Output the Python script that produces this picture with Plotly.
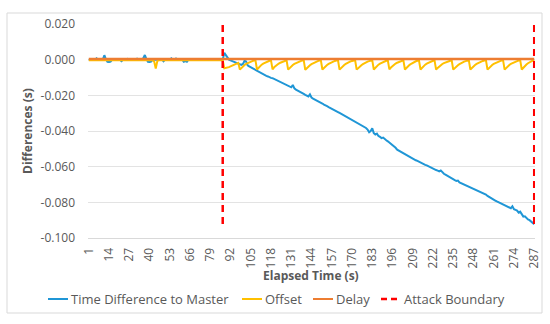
import plotly.graph_objects as go

# ---------------- data ----------------
ELAPSED = list(range(1, 288))  # category positions 1..287

TICK_VALUES = [1, 14, 27, 40, 53, 66, 79, 92, 105, 118, 131, 144, 157, 170, 183,
               196, 209, 222, 235, 248, 261, 274, 287]

TIME_DIFF = [
    0.0000, 0.0000, 0.0003, 0.0000, 0.0000, 0.0008, 0.0000, 0.0000, 0.0003, 0.0000,
    0.0025, 0.0002, -0.0012, -0.0013, -0.0011, 0.0000, 0.0000, 0.0000, 0.0002, 0.0000,
    0.0000, -0.0008, 0.0000, 0.0000, 0.0000, 0.0005, 0.0000, 0.0000, 0.0000, 0.0000,
    0.0000, 0.0006, 0.0000, 0.0000, 0.0000, 0.0008, 0.0026, 0.0003, -0.0012, -0.0013,
    -0.0011, 0.0000, 0.0000, 0.0000, 0.0000, 0.0000, 0.0000, 0.0000, -0.0009, 0.0000,
    0.0000, 0.0000, 0.0000, 0.0008, 0.0000, 0.0000, 0.0007, 0.0000, 0.0000, 0.0000,
    0.0000, -0.0012, -0.0008, -0.0012, 0.0000, 0.0000, 0.0000, 0.0000, 0.0000, 0.0000,
    0.0000, 0.0000, 0.0003, 0.0000, 0.0000, 0.0000, 0.0000, 0.0000, 0.0000, 0.0000,
    0.0000, 0.0000, 0.0000, 0.0000, 0.0000, 0.0000, 0.0000,
    0.0038, 0.0025, 0.0008,
    0.0000, -0.0004, -0.0008, -0.0011, -0.0014, -0.0018, -0.0022, -0.0026, -0.0029, -0.0024,
    -0.0006, -0.0010, -0.0032, -0.0038, -0.0043, -0.0048, -0.0053, -0.0058, -0.0063, -0.0068,
    -0.0073, -0.0079, -0.0084, -0.0088, -0.0091, -0.0094, -0.0099, -0.0102, -0.0104, -0.0108,
    -0.0112, -0.0116, -0.0121, -0.0125, -0.0129, -0.0132, -0.0137, -0.0141, -0.0146, -0.0151,
    -0.0155, -0.0142, -0.0161,
    -0.0168, -0.0172, -0.0178, -0.0183, -0.0186, -0.0192, -0.0197,
    -0.0201, -0.0206, -0.0195, -0.0212, -0.0218, -0.0222, -0.0228, -0.0231, -0.0237, -0.0242,
    -0.0246, -0.0252, -0.0255, -0.0261, -0.0266, -0.0270, -0.0276, -0.0279, -0.0285, -0.0290,
    -0.0294, -0.0299, -0.0304, -0.0308, -0.0313, -0.0318, -0.0322, -0.0328, -0.0331, -0.0337,
    -0.0342, -0.0346, -0.0352, -0.0356, -0.0362, -0.0366, -0.0372, -0.0378, -0.0383, -0.0392,
    -0.0407, -0.0400, -0.0385, -0.0412, -0.0420, -0.0415, -0.0428, -0.0433, -0.0440, -0.0437,
    -0.0447, -0.0452, -0.0458, -0.0465, -0.0470, -0.0476, -0.0482, -0.0494, -0.0505, -0.0510,
    -0.0515, -0.0520, -0.0525, -0.0532, -0.0538, -0.0541, -0.0545, -0.0551, -0.0555, -0.0561,
    -0.0564, -0.0568, -0.0573, -0.0577, -0.0580, -0.0585, -0.0590, -0.0593, -0.0598, -0.0602,
    -0.0606, -0.0610, -0.0614, -0.0619, -0.0622, -0.0626, -0.0621, -0.0632, -0.0640, -0.0645,
    -0.0651, -0.0657, -0.0663, -0.0667, -0.0672, -0.0676, -0.0680, -0.0678, -0.0688, -0.0692,
    -0.0696, -0.0700, -0.0703, -0.0707, -0.0710, -0.0714, -0.0718, -0.0722, -0.0726, -0.0731,
    -0.0734, -0.0738, -0.0741, -0.0745, -0.0750, -0.0756, -0.0764, -0.0770, -0.0777, -0.0782,
    -0.0786, -0.0790, -0.0795, -0.0799, -0.0803, -0.0808, -0.0812, -0.0816, -0.0820, -0.0825,
    -0.0829, -0.0833, -0.0822, -0.0838, -0.0842, -0.0846, -0.0858, -0.0852, -0.0866, -0.0880,
    -0.0878, -0.0890, -0.0896, -0.0900, -0.0908, -0.0915, -0.0923,
]

OFFSET = [
    # 1-87 (before attack)
    -0.0003, -0.0003, -0.0002, -0.0003, -0.0003, -0.0002, -0.0003, -0.0003, -0.0003, -0.0002,
    -0.0003, -0.0004, -0.0003, -0.0003, -0.0003, -0.0003, -0.0002, -0.0003, -0.0003, -0.0003,
    -0.0003, -0.0003, -0.0003, -0.0003, -0.0003, -0.0003, -0.0003, -0.0003, -0.0003, -0.0003,
    -0.0003, -0.0003, -0.0003, -0.0003, -0.0003, -0.0003, -0.0003, -0.0003, -0.0003, -0.0003,
    -0.0003, -0.0003, -0.0010, -0.0050, -0.0008, -0.0003, -0.0003, -0.0003, -0.0003, -0.0003,
    -0.0003, -0.0003, -0.0003, -0.0003, -0.0003, -0.0003, -0.0003, -0.0003, -0.0003, -0.0003,
    -0.0003, -0.0003, -0.0003, -0.0003, -0.0003, -0.0003, -0.0003, -0.0003, -0.0003, -0.0003,
    -0.0003, -0.0003, -0.0003, -0.0003, -0.0003, -0.0003, -0.0003, -0.0003, -0.0003, -0.0003,
    -0.0003, -0.0003, -0.0003, -0.0003, -0.0003, -0.0003, -0.0003,
    # 88-287 (sawtooth after attack)
    -0.0048, -0.0047, -0.0045, -0.0042, -0.0038, -0.0034, -0.0030, -0.0026, -0.0022, -0.0018,
    -0.0056, -0.0046, -0.0037, -0.0030, -0.0024, -0.0019, -0.0015, -0.0011, -0.0008, -0.0005, -0.0003,
    -0.0055, -0.0044, -0.0035, -0.0028, -0.0022, -0.0017, -0.0013, -0.0009, -0.0006, -0.0004,
    -0.0054, -0.0043, -0.0035, -0.0028, -0.0022, -0.0017, -0.0013, -0.0010, -0.0007, -0.0004,
    -0.0056, -0.0046, -0.0037, -0.0030, -0.0024, -0.0019, -0.0015, -0.0011, -0.0008, -0.0005, -0.0003,
    -0.0057, -0.0047, -0.0038, -0.0031, -0.0025, -0.0020, -0.0015, -0.0011, -0.0008, -0.0005, -0.0003,
    -0.0055, -0.0045, -0.0037, -0.0030, -0.0024, -0.0019, -0.0014, -0.0010, -0.0007, -0.0005, -0.0003,
    -0.0056, -0.0046, -0.0037, -0.0030, -0.0024, -0.0018, -0.0014, -0.0010, -0.0007, -0.0005, -0.0003,
    -0.0056, -0.0046, -0.0038, -0.0031, -0.0025, -0.0019, -0.0015, -0.0011, -0.0008, -0.0005, -0.0003,
    -0.0055, -0.0044, -0.0035, -0.0028, -0.0022, -0.0017, -0.0013, -0.0009, -0.0006, -0.0004,
    -0.0054, -0.0044, -0.0035, -0.0028, -0.0022, -0.0017, -0.0013, -0.0009, -0.0006, -0.0004,
    -0.0055, -0.0045, -0.0036, -0.0029, -0.0023, -0.0017, -0.0013, -0.0009, -0.0006, -0.0004,
    -0.0055, -0.0044, -0.0035, -0.0028, -0.0022, -0.0017, -0.0012, -0.0009, -0.0006, -0.0004,
    -0.0056, -0.0046, -0.0037, -0.0030, -0.0024, -0.0019, -0.0015, -0.0011, -0.0008, -0.0005, -0.0003,
    -0.0056, -0.0046, -0.0038, -0.0031, -0.0025, -0.0019, -0.0015, -0.0011, -0.0008, -0.0005, -0.0003,
    -0.0055, -0.0045, -0.0037, -0.0030, -0.0024, -0.0019, -0.0014, -0.0010, -0.0007, -0.0005, -0.0003,
    -0.0056, -0.0046, -0.0037, -0.0030, -0.0024, -0.0019, -0.0015, -0.0011, -0.0008, -0.0005, -0.0003,
    -0.0056, -0.0046, -0.0037, -0.0030, -0.0024, -0.0019, -0.0015, -0.0011, -0.0008, -0.0005, -0.0003,
    -0.0055, -0.0044, -0.0035, -0.0027, -0.0020, -0.0014, -0.0009, -0.0005, -0.0002,
]

DELAY = [
    0.0004, 0.0004, 0.0004, 0.0004, 0.0004, 0.0004, 0.0004, 0.0004, 0.0004, 0.0004,
    0.0004, 0.0004, 0.0004, 0.0004, 0.0004, 0.0004, 0.0004, 0.0004, 0.0004, 0.0004,
    0.0004, 0.0004, 0.0004, 0.0004, 0.0004, 0.0004, 0.0004, 0.0004, 0.0004, 0.0004,
    0.0004, 0.0004, 0.0004, 0.0004, 0.0004, 0.0004, 0.0004, 0.0004, 0.0004, 0.0004,
    0.0004, 0.0004, 0.0004, 0.0004, 0.0004, 0.0004, 0.0004, 0.0004, 0.0004, 0.0004,
    0.0004, 0.0004, 0.0004, 0.0004, 0.0004, 0.0004, 0.0004, 0.0004, 0.0004, 0.0004,
    0.0004, 0.0004, 0.0004, 0.0004, 0.0004, 0.0004, 0.0004, 0.0004, 0.0004, 0.0004,
    0.0004, 0.0004, 0.0004, 0.0004, 0.0004, 0.0004, 0.0004, 0.0004, 0.0004, 0.0004,
    0.0004, 0.0004, 0.0004, 0.0004, 0.0004, 0.0004, 0.0004, 0.0004, 0.0004, 0.0004,
    0.0004, 0.0004, 0.0004, 0.0004, 0.0004, 0.0004, 0.0004, 0.0004, 0.0004, 0.0004,
    0.0004, 0.0004, 0.0004, 0.0004, 0.0004, 0.0004, 0.0004, 0.0004, 0.0004, 0.0004,
    0.0004, 0.0004, 0.0004, 0.0004, 0.0004, 0.0004, 0.0004, 0.0004, 0.0004, 0.0004,
    0.0004, 0.0004, 0.0004, 0.0004, 0.0004, 0.0004, 0.0004, 0.0004, 0.0004, 0.0004,
    0.0004, 0.0004, 0.0004, 0.0004, 0.0004, 0.0004, 0.0004, 0.0004, 0.0004, 0.0004,
    0.0004, 0.0004, 0.0004, 0.0004, 0.0004, 0.0004, 0.0004, 0.0004, 0.0004, 0.0004,
    0.0004, 0.0004, 0.0004, 0.0004, 0.0004, 0.0004, 0.0004, 0.0004, 0.0004, 0.0004,
    0.0004, 0.0004, 0.0004, 0.0004, 0.0004, 0.0004, 0.0004, 0.0004, 0.0004, 0.0004,
    0.0004, 0.0004, 0.0004, 0.0004, 0.0004, 0.0004, 0.0004, 0.0004, 0.0004, 0.0004,
    0.0004, 0.0004, 0.0004, 0.0004, 0.0004, 0.0004, 0.0004, 0.0004, 0.0004, 0.0004,
    0.0004, 0.0004, 0.0004, 0.0004, 0.0004, 0.0004, 0.0004, 0.0004, 0.0004, 0.0004,
    0.0004, 0.0004, 0.0004, 0.0004, 0.0004, 0.0004, 0.0004, 0.0004, 0.0004, 0.0004,
    0.0004, 0.0004, 0.0004, 0.0004, 0.0004, 0.0004, 0.0004, 0.0004, 0.0004, 0.0004,
    0.0004, 0.0004, 0.0004, 0.0004, 0.0004, 0.0004, 0.0004, 0.0004, 0.0004, 0.0004,
    0.0004, 0.0004, 0.0004, 0.0004, 0.0004, 0.0004, 0.0004, 0.0004, 0.0004, 0.0004,
    0.0004, 0.0004, 0.0004, 0.0004, 0.0004, 0.0004, 0.0004, 0.0004, 0.0004, 0.0004,
    0.0004, 0.0004, 0.0004, 0.0004, 0.0004, 0.0004, 0.0004, 0.0004, 0.0004, 0.0004,
    0.0004, 0.0004, 0.0004, 0.0004, 0.0004, 0.0004, 0.0004, 0.0004, 0.0004, 0.0004,
    0.0004, 0.0004, 0.0004, 0.0004, 0.0004, 0.0004, 0.0004, 0.0004, 0.0004, 0.0004,
    0.0004, 0.0004, 0.0004, 0.0004, 0.0004, 0.0004, 0.0004,
]

ATTACK_X = [87, 287]
ATTACK_Y_TOP = 0.0195
ATTACK_Y_BOTTOM = -0.095

Y_TICKS = [0.02, 0.0, -0.02, -0.04, -0.06, -0.08, -0.1]
Y_TICK_TEXT = ["0.020", "0.000", "-0.020", "-0.040", "-0.060", "-0.080", "-0.100"]

SERIES_NAMES = ["Time Difference to Master", "Offset", "Delay", "Attack Boundary"]
SERIES_COLORS = ["#1f96d6", "#ffc000", "#ed7d31", "#ff0000"]

assert len(TIME_DIFF) == len(ELAPSED) == len(OFFSET) == len(DELAY)

# ---------------- figure ----------------
GRAY = "#595959"
FONT = "Open Sans"
W, H = 550, 324
L, R, T, B = 88, 15, 24, 86
pw, ph = W - L - R, H - T - B


def px_x(px):
    return (px - L) / pw


def px_y(py):
    return (H - B - py) / ph


fig = go.Figure()
fig.add_trace(go.Scatter(x=ELAPSED, y=TIME_DIFF, mode="lines", name=SERIES_NAMES[0],
                         line=dict(color=SERIES_COLORS[0], width=2)))
fig.add_trace(go.Scatter(x=ELAPSED, y=OFFSET, mode="lines", name=SERIES_NAMES[1],
                         line=dict(color=SERIES_COLORS[1], width=2)))
fig.add_trace(go.Scatter(x=ELAPSED, y=DELAY, mode="lines", name=SERIES_NAMES[2],
                         line=dict(color=SERIES_COLORS[2], width=2.5)))

ax, ay = [], []
for xv in ATTACK_X:
    ax += [xv, xv, None]
    ay += [ATTACK_Y_TOP, ATTACK_Y_BOTTOM, None]
fig.add_trace(go.Scatter(x=ax, y=ay, mode="lines", name=SERIES_NAMES[3],
                         line=dict(color=SERIES_COLORS[3], width=2.5, dash="7px,5px")))

# custom legend (Excel-like spacing), positions in pixels
LEG_Y = 299
legend_items = [  # (line start, line end, text start)
    (48, 68, 69),
    (242, 262, 263),
    (313, 333, 334),
    (381, 400, 402),
]
shapes = [dict(type="rect", xref="paper", yref="paper",
               x0=px_x(7), x1=px_x(542), y0=px_y(313), y1=px_y(13),
               line=dict(color="#d9d9d9", width=1), fillcolor="rgba(0,0,0,0)",
               layer="below")]
annotations = []
for i, (x0, x1, xt) in enumerate(legend_items):
    shapes.append(dict(type="line", xref="paper", yref="paper",
                       x0=px_x(x0), x1=px_x(x1), y0=px_y(LEG_Y), y1=px_y(LEG_Y),
                       line=dict(color=SERIES_COLORS[i], width=2.5 if i == 3 else 2,
                                 dash="6px,4px" if i == 3 else "solid")))
    annotations.append(dict(text=SERIES_NAMES[i], xref="paper", yref="paper",
                            x=px_x(xt), y=px_y(LEG_Y), xanchor="left", yanchor="middle",
                            showarrow=False, font=dict(family=FONT, size=13, color=GRAY)))

# axis titles
annotations.append(dict(text="<b>Elapsed Time (s)</b>", xref="paper", yref="paper",
                        x=px_x(311), y=px_y(275), xanchor="center", yanchor="middle",
                        showarrow=False, font=dict(family=FONT, size=12, color=GRAY)))
annotations.append(dict(text="<b>Differences (s)</b>", xref="paper", yref="paper",
                        x=px_x(27), y=px_y(131), xanchor="center", yanchor="middle",
                        textangle=-90, showarrow=False,
                        font=dict(family=FONT, size=12, color=GRAY)))

fig.update_layout(
    width=W, height=H,
    margin=dict(l=L, r=R, t=T, b=B, autoexpand=False),
    paper_bgcolor="white", plot_bgcolor="white",
    font=dict(family=FONT, size=12, color=GRAY),
    showlegend=False,
    xaxis=dict(range=[0.5, 287.5], tickmode="array", tickvals=TICK_VALUES,
               ticktext=[str(v) for v in TICK_VALUES], tickangle=-90,
               showgrid=False, zeroline=False, showline=True, linecolor="#d9d9d9",
               ticks="", ticklabelstandoff=4, automargin=False,
               tickfont=dict(family=FONT, size=12, color=GRAY)),
    yaxis=dict(range=[-0.1, 0.02], tickmode="array", tickvals=Y_TICKS, ticktext=Y_TICK_TEXT,
               showgrid=True, gridcolor="#e3e3e3", gridwidth=1, zeroline=False,
               showline=False, ticks="", ticklabelstandoff=12, automargin=False,
               tickfont=dict(family=FONT, size=12, color=GRAY)),
    shapes=shapes,
    annotations=annotations,
)

fig.write_html("out.html", config={"displayModeBar": False},
               post_script="document.body.style.margin='0';document.body.style.overflow='hidden';")
